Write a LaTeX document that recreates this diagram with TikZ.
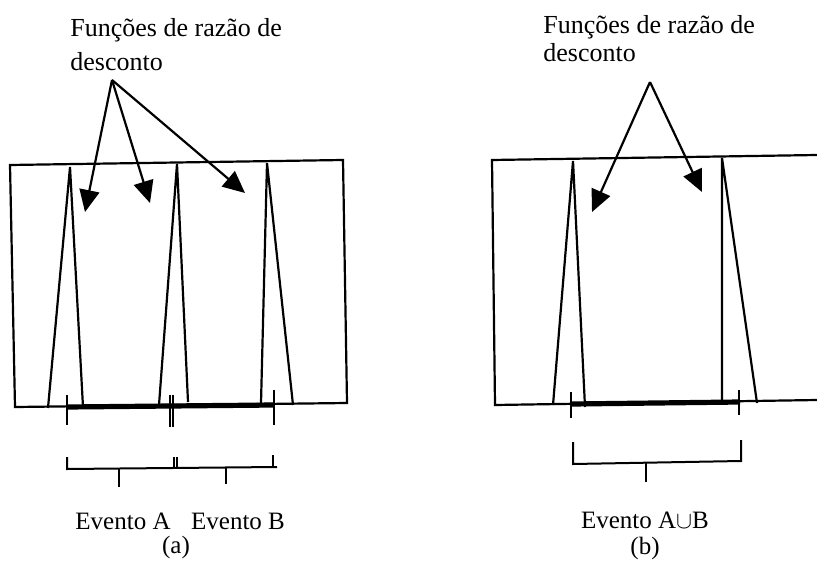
\documentclass[tikz,border=0pt]{standalone}
\usepackage{fontspec}
\setmainfont{Liberation Serif}
\usetikzlibrary{arrows.meta}

\begin{document}
\begin{tikzpicture}[x=0.5pt, y=-0.5pt, >={Triangle[length=11pt,width=10pt]},
  every node/.style={font=\fontsize{12.5}{16}\selectfont, inner sep=0pt},
  title/.style={align=left, anchor=north west},
  frame/.style={line width=1.1pt},
  pointer/.style={->, line width=1.1pt},
  support/.style={line width=2.6pt},
  tick/.style={line width=1pt}]
  \useasboundingbox (0,0) rectangle (817,577);

  % (a) two separate events
  \node[title, font=\fontsize{13}{17}\selectfont] (titleA) at (70,18) {Funções de razão de\\desconto};
  \coordinate (fromA) at (112,80);
  \coordinate (tipA1) at (85,212);
  \coordinate (tipA2) at (150,203);
  \coordinate (tipA3) at (245,193);

  \draw[frame] (10,165) -- (343,160) -- (347,403) -- (15,407) -- cycle;
  \draw[frame] (48,408) -- (70,167) -- (83,407);
  \draw[frame] (159,405) -- (177,164) -- (188,402);
  \draw[frame] (261,403) -- (267,163) -- (293,405);

  \draw[support] (67,407) -- (274,405);
  \draw[tick] (67,395) -- (67,425);
  \draw[tick] (170,395) -- (170,427);
  \draw[tick] (173,395) -- (173,427);
  \draw[tick] (274,390) -- (274,425);

  \draw[tick] (67,457) -- (67,469) -- (277,467);
  \draw[tick] (273,455) -- (273,467);
  \draw[tick] (174,457) -- (174,468);
  \draw[tick] (177,457) -- (177,468);
  \draw[tick] (119,469) -- (119,487);
  \draw[tick] (226,467) -- (226,484);

  \draw[pointer] (fromA) -- (tipA1);
  \draw[pointer] (fromA) -- (tipA2);
  \draw[pointer] (fromA) -- (tipA3);

  \node (evA) at (123,521) {Evento A};
  \node (evB) at (238,521) {Evento B};
  \node (capA) at (176,547) {(a)};

  % (b) union of the events
  \node[title, font=\fontsize{13}{14}\selectfont] (titleB) at (543,15) {Funções de razão de\\desconto};
  \coordinate (fromB) at (650,82);
  \coordinate (tipB1) at (592,212);
  \coordinate (tipB2) at (702,192);

  \draw[frame] (817,155) -- (492,160) -- (495,405) -- (817,400);
  \draw[frame] (553,405) -- (573,161) -- (585,407);
  \draw[frame] (722,400) -- (722,158) -- (757,403);

  \draw[support] (572,404) -- (740,402);
  \draw[tick] (571,392) -- (571,418);
  \draw[tick] (739,390) -- (739,415);

  \draw[tick] (573,442) -- (573,464) -- (741,461) -- (741,440);
  \draw[tick] (646,462) -- (646,482);

  \draw[pointer] (fromB) -- (tipB1);
  \draw[pointer] (fromB) -- (tipB2);

  \node (evAB) at (645,520) {Evento A$\cup$B};
  \node (capB) at (645,548) {(b)};
\end{tikzpicture}
\end{document}
